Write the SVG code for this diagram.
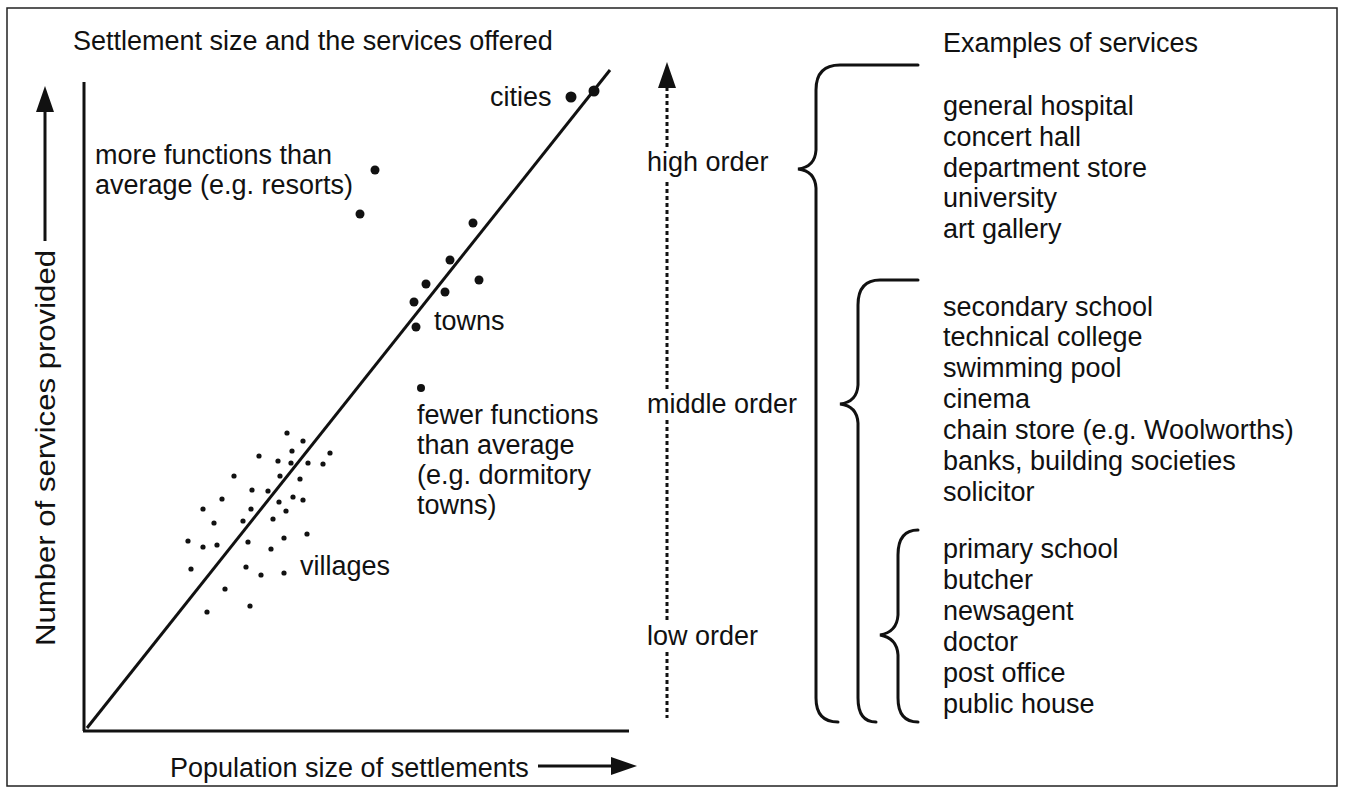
<svg xmlns="http://www.w3.org/2000/svg" width="1345" height="792" viewBox="0 0 1345 792">
<style>
text{font-family:"Liberation Sans",Arial,sans-serif;font-size:27px;fill:#111}
.ln{stroke:#111;stroke-width:3;fill:none}
.br{stroke:#111;stroke-width:3;fill:none;stroke-linecap:round}
.dot{fill:#111}
.vd{fill:#111}
.dash{stroke:#111;stroke-width:3;stroke-dasharray:4 3;fill:none}
</style>
<rect x="0" y="0" width="1345" height="792" fill="#fff"/>
<rect x="7" y="8" width="1330" height="778" fill="none" stroke="#222" stroke-width="1.5"/>

<g id="title"><text x="73" y="50" font-size="25.3">Settlement size and the services offered</text></g>

<g id="axes">
<line class="ln" x1="84" y1="82" x2="84" y2="731"/>
<line class="ln" x1="83" y1="731" x2="629" y2="731"/>
</g>

<g id="y-label">
<text transform="translate(55,646) rotate(-90)" font-size="33" textLength="396" lengthAdjust="spacingAndGlyphs">Number of services provided</text>
</g>
<g id="x-label">
<text x="170" y="777">Population size of settlements</text>
</g>

<g id="connectors">
<line class="ln" x1="45" y1="241" x2="45" y2="108"/>
<polygon points="45,86 36,112 54,112" fill="#111"/>
<line class="ln" x1="538" y1="766" x2="614" y2="766"/>
<polygon points="637,766 611,757 611,775" fill="#111"/>
<line class="ln" x1="87" y1="728" x2="610" y2="70"/>
<line class="dash" x1="667" y1="87" x2="667" y2="148"/>
<line class="dash" x1="667" y1="182" x2="667" y2="392"/>
<line class="dash" x1="667" y1="420" x2="667" y2="622"/>
<line class="dash" x1="667" y1="652" x2="667" y2="718"/>
<polygon points="667,62 658,88 676,88" fill="#111"/>
</g>

<g id="cities">
<circle class="dot" cx="571" cy="97" r="5.5"/>
<circle class="dot" cx="594" cy="91" r="5.5"/>
<text x="490" y="106">cities</text>
</g>

<g id="resorts">
<circle class="dot" cx="375" cy="170" r="4.5"/>
<circle class="dot" cx="360" cy="214" r="4.5"/>
<text x="95" y="164">more functions than</text>
<text x="95" y="194">average (e.g. resorts)</text>
</g>

<g id="towns">
<circle class="dot" cx="473" cy="223" r="4.5"/>
<circle class="dot" cx="450" cy="260" r="4.5"/>
<circle class="dot" cx="426" cy="284" r="4.5"/>
<circle class="dot" cx="479" cy="280" r="4.5"/>
<circle class="dot" cx="445" cy="292" r="4.5"/>
<circle class="dot" cx="414" cy="302" r="4.5"/>
<circle class="dot" cx="416" cy="327" r="4.5"/>
<text x="434" y="330">towns</text>
</g>

<g id="dormitory">
<circle class="dot" cx="421" cy="388" r="4"/>
<text x="417" y="424">fewer functions</text>
<text x="417" y="454">than average</text>
<text x="417" y="484">(e.g. dormitory</text>
<text x="417" y="514">towns)</text>
</g>

<g id="villages">
<circle class="vd" cx="287" cy="433" r="2.6"/>
<circle class="vd" cx="303" cy="441" r="2.6"/>
<circle class="vd" cx="259" cy="456" r="2.6"/>
<circle class="vd" cx="292" cy="451" r="2.6"/>
<circle class="vd" cx="330" cy="453" r="2.6"/>
<circle class="vd" cx="278" cy="461" r="2.6"/>
<circle class="vd" cx="291" cy="463" r="2.6"/>
<circle class="vd" cx="308" cy="463" r="2.6"/>
<circle class="vd" cx="323" cy="464" r="2.6"/>
<circle class="vd" cx="234" cy="476" r="2.6"/>
<circle class="vd" cx="280" cy="476" r="2.6"/>
<circle class="vd" cx="300" cy="479" r="2.6"/>
<circle class="vd" cx="252" cy="490" r="2.6"/>
<circle class="vd" cx="268" cy="491" r="2.6"/>
<circle class="vd" cx="222" cy="499" r="2.6"/>
<circle class="vd" cx="279" cy="502" r="2.6"/>
<circle class="vd" cx="293" cy="497" r="2.6"/>
<circle class="vd" cx="303" cy="500" r="2.6"/>
<circle class="vd" cx="203" cy="509" r="2.6"/>
<circle class="vd" cx="251" cy="509" r="2.6"/>
<circle class="vd" cx="286" cy="511" r="2.6"/>
<circle class="vd" cx="243" cy="521" r="2.6"/>
<circle class="vd" cx="273" cy="519" r="2.6"/>
<circle class="vd" cx="214" cy="523" r="2.6"/>
<circle class="vd" cx="188" cy="541" r="2.6"/>
<circle class="vd" cx="203" cy="547" r="2.6"/>
<circle class="vd" cx="217" cy="545" r="2.6"/>
<circle class="vd" cx="248" cy="542" r="2.6"/>
<circle class="vd" cx="284" cy="538" r="2.6"/>
<circle class="vd" cx="307" cy="534" r="2.6"/>
<circle class="vd" cx="271" cy="549" r="2.6"/>
<circle class="vd" cx="191" cy="569" r="2.6"/>
<circle class="vd" cx="246" cy="567" r="2.6"/>
<circle class="vd" cx="261" cy="575" r="2.6"/>
<circle class="vd" cx="284" cy="573" r="2.6"/>
<circle class="vd" cx="225" cy="589" r="2.6"/>
<circle class="vd" cx="207" cy="612" r="2.6"/>
<circle class="vd" cx="250" cy="606" r="2.6"/>
<text x="300" y="575">villages</text>
</g>

<g id="order-labels">
<text x="647" y="171">high order</text>
<text x="647" y="413">middle order</text>
<text x="647" y="645">low order</text>
</g>

<g id="braces">
<path class="br" d="M918,65 L840,65 Q816,65 816,90 L816,150 Q815,167 798,169 Q815,171 816,188 L816,698 Q816,722 838,722"/>
<path class="br" d="M918,280 L880,280 Q858,280 858,305 L858,385 Q857,402 840,404 Q857,406 858,423 L858,698 Q858,722 876,722"/>
<path class="br" d="M918,530 Q898,530 898,555 L898,615 Q897,632 880,635 Q897,638 898,655 L898,698 Q898,722 918,722"/>
</g>

<g id="services-header"><text x="943" y="52">Examples of services</text></g>

<g id="high-services">
<text x="943" y="115">general hospital</text>
<text x="943" y="146">concert hall</text>
<text x="943" y="177">department store</text>
<text x="943" y="207">university</text>
<text x="943" y="238">art gallery</text>
</g>

<g id="middle-services">
<text x="943" y="316">secondary school</text>
<text x="943" y="346">technical college</text>
<text x="943" y="377">swimming pool</text>
<text x="943" y="408">cinema</text>
<text x="943" y="439">chain store (e.g. Woolworths)</text>
<text x="943" y="470">banks, building societies</text>
<text x="943" y="501">solicitor</text>
</g>

<g id="low-services">
<text x="943" y="558">primary school</text>
<text x="943" y="589">butcher</text>
<text x="943" y="620">newsagent</text>
<text x="943" y="651">doctor</text>
<text x="943" y="682">post office</text>
<text x="943" y="713">public house</text>
</g>
</svg>
